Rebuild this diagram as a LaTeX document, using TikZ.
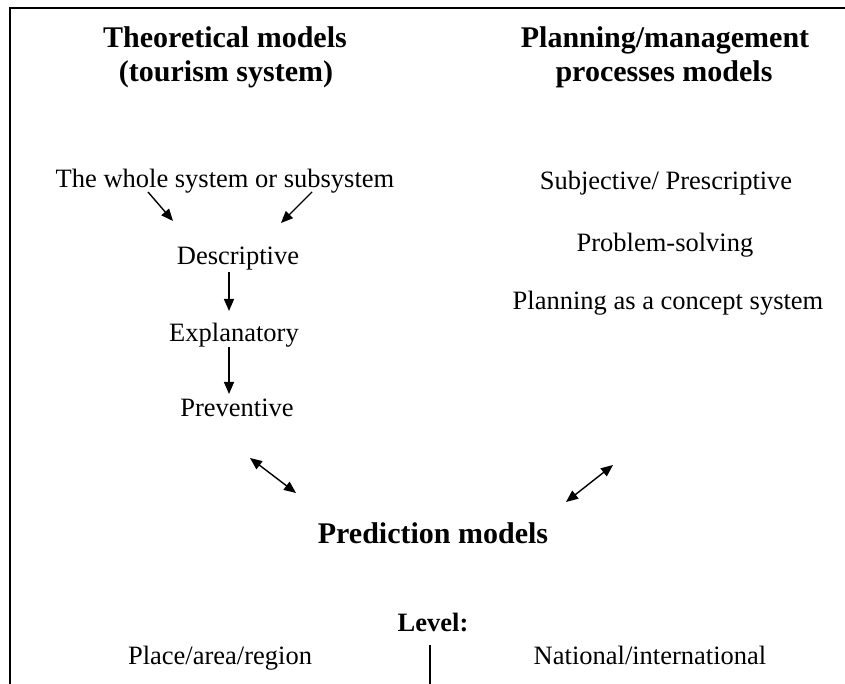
\documentclass[tikz,border=0pt]{standalone}
\usepackage{fontspec}
\setmainfont{Liberation Serif}
\usetikzlibrary{arrows.meta}
\begin{document}
\begin{tikzpicture}[x=1pt,y=1pt,
  txt/.style={inner sep=0pt,anchor=base,font=\fontsize{26.5}{30}\selectfont},
  head/.style={inner sep=0pt,anchor=base,font=\fontsize{30}{34}\selectfont\bfseries},
  arr/.style={line width=1.4pt,-{Triangle[length=12pt,width=10pt]}},
  darr/.style={line width=1.4pt,{Triangle[length=12pt,width=10pt]}-{Triangle[length=12pt,width=10pt]}},
  frame/.style={line width=2.5pt}]
\useasboundingbox (0,0) rectangle (845,684);
% open frame: top and left edges
\draw[frame] (845,676) -- (10,676) -- (10,0);

% column headings
\node[head] (th1) at (225,636) {Theoretical models};
\node[head] (th2) at (226,602) {(tourism system)};
\node[head] (ph1) at (665,636) {Planning/management};
\node[head] (ph2) at (664,602) {processes models};

% theoretical chain
\node[txt] (whole) at (225,496) {The whole system or subsystem};
\node[txt] (desc) at (238,419) {Descriptive};
\node[txt] (expl) at (234,342) {Explanatory};
\node[txt] (prev) at (237,267) {Preventive};

% planning models
\node[txt] (subj) at (666,494) {Subjective/ Prescriptive};
\node[txt] (prob) at (665,432) {Problem-solving};
\node[txt] (plan) at (668,374) {Planning as a concept system};

% prediction and level
\node[head] (pred) at (433,140) {Prediction models};
\node[head,font=\fontsize{26.5}{30}\selectfont\bfseries] (level) at (433,52) {Level:};
\node[txt] (place) at (220,19) {Place/area/region};
\node[txt] (natl) at (650,19) {National/international};

% arrow end points
\coordinate (w1) at (148,492);
\coordinate (w1e) at (173,463);
\coordinate (w2) at (312,492);
\coordinate (w2e) at (281,461);
\coordinate (d1) at (229,412);
\coordinate (d1e) at (229,373);
\coordinate (e1) at (229,337);
\coordinate (e1e) at (229,290);
\coordinate (p1) at (250,226);
\coordinate (p1e) at (296,191);
\coordinate (q1) at (566,182);
\coordinate (q1e) at (613,219);
\coordinate (lv) at (430,39);
\coordinate (lve) at (430,0);

\draw[arr] (w1) -- (w1e);
\draw[arr] (w2) -- (w2e);
\draw[arr] (d1) -- (d1e);
\draw[arr] (e1) -- (e1e);
\draw[darr] (p1) -- (p1e);
\draw[darr] (q1) -- (q1e);
\draw[line width=1.2pt] (lv) -- (lve);
\end{tikzpicture}
\end{document}
